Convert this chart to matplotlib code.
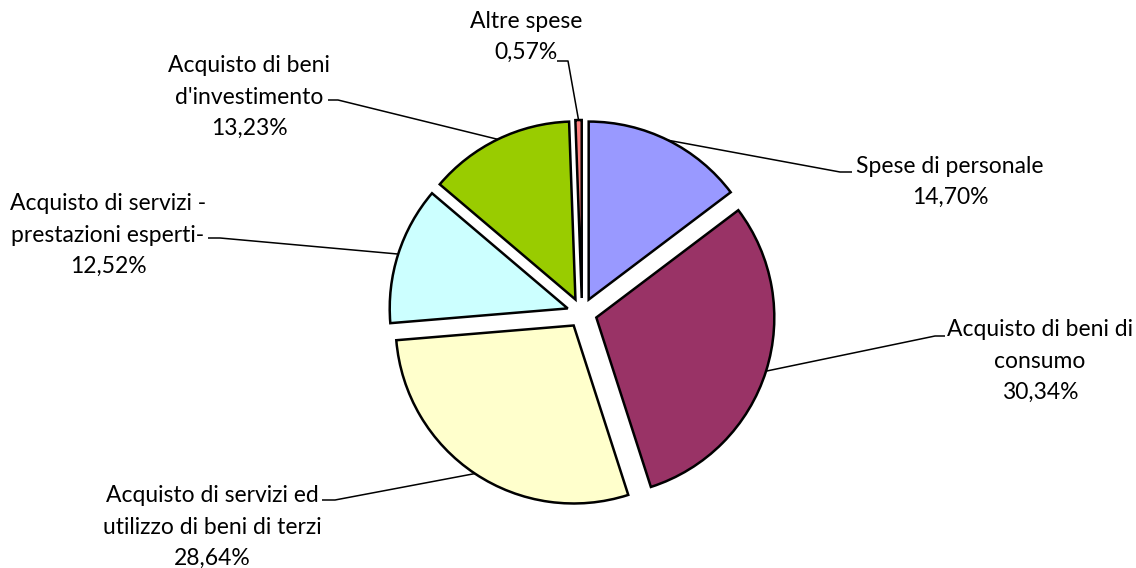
import numpy as np
import matplotlib
matplotlib.use("Agg")
import matplotlib.pyplot as plt

categories = ["Spese di personale", "Acquisto di beni di\nconsumo",
              "Acquisto di servizi ed\nutilizzo di beni di terzi",
              "Acquisto di servizi -\nprestazioni esperti-",
              "Acquisto di beni\nd'investimento", "Altre spese"]
values = [14.70, 30.34, 28.64, 12.52, 13.23, 0.57]
pct_labels = ["14,70%", "30,34%", "28,64%", "12,52%", "13,23%", "0,57%"]
colors = ["#9999FF", "#993366", "#FFFFCC", "#CCFFFF", "#99CC00", "#FF8080"]

W, H = 1136, 568
fig = plt.figure(figsize=(W / 100, H / 100), dpi=100)
ax = fig.add_axes([0, 0, 1, 1])

cx, cy_px = 582, 313
R = 178
D = 15  # explode distance in pixels
center = (cx, H - cy_px)

wedges, _ = ax.pie(values, colors=colors, startangle=90, counterclock=False,
                   center=center, radius=R, explode=[D] * len(values),
                   wedgeprops=dict(edgecolor="black", linewidth=1.8))
ax.set_xlim(0, W)
ax.set_ylim(0, H)
ax.set_aspect("equal")
ax.axis("off")

# label layout in pixel coords: (text x center, text y center, line start x, line y, elbow x)
layout = [
    (950, 182, 852, 172, 840),
    (1040, 361, 945, 336, 935),
    (212, 527, 322, 500, 335),
    (108, 235, 208, 238, 220),
    (249, 97, 328, 100, 338),
    (526, 37, 557, 61, 568),
]

font = "Lato"
total = sum(values)
cum = 0.0
for i, v in enumerate(values):
    mid = (cum + v / 2) / total
    cum += v
    ang = np.deg2rad(90 - 360 * mid)
    px = center[0] + (D + R) * np.cos(ang)
    py = center[1] + (D + R) * np.sin(ang)
    tx, ty, lx, ly, ex = layout[i]
    ax.plot([lx, ex, px], [H - ly, H - ly, py], color="black", lw=1.1,
            solid_capstyle="butt", zorder=1)
    ax.text(tx, H - ty, categories[i] + "\n" + pct_labels[i], ha="center",
            va="center", fontsize=16.5, family=font, linespacing=1.62,
            multialignment="center")

fig.savefig("out.png", dpi=100, facecolor="white")
